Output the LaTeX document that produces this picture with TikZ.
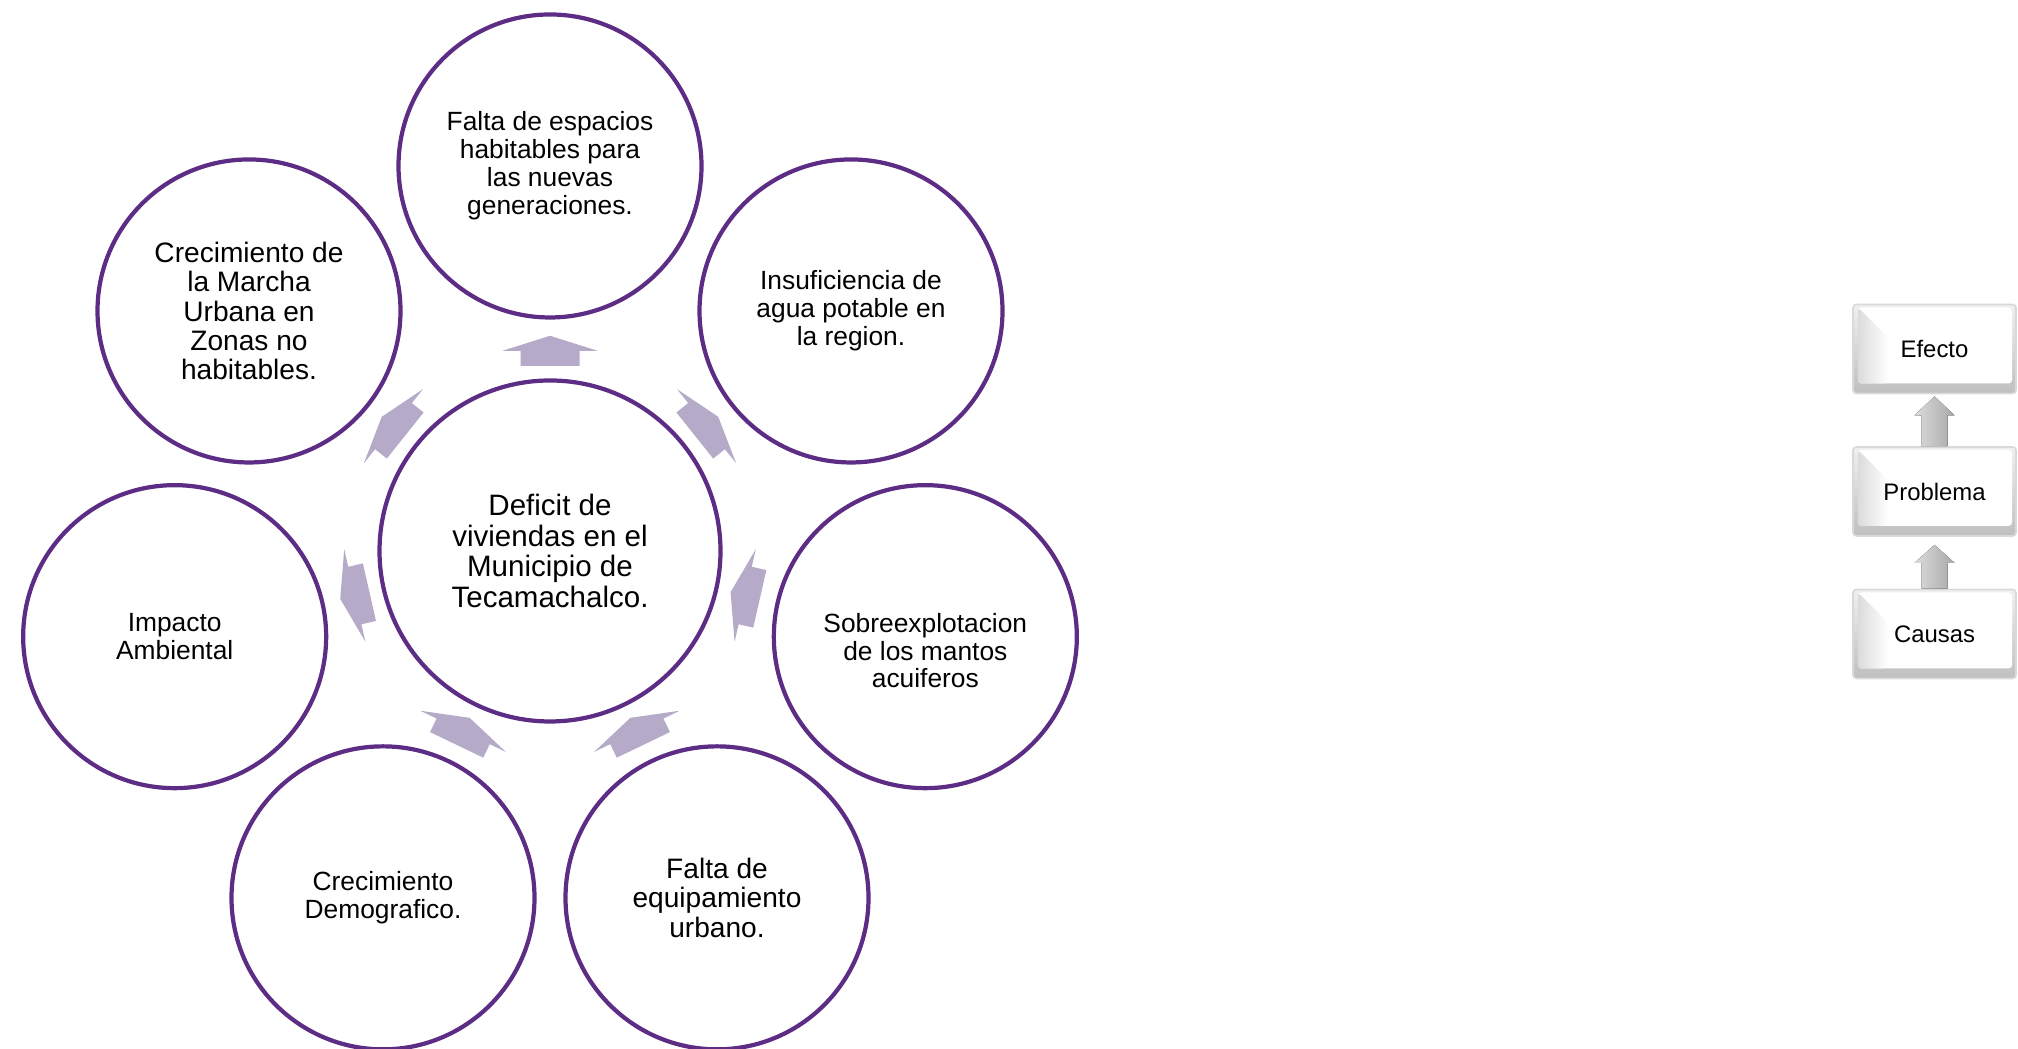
\documentclass[tikz,border=0pt]{standalone}
\usepackage{fontspec}
\setmainfont{Liberation Sans}
\usetikzlibrary{calc}

\definecolor{ringline}{RGB}{93,44,132}
\definecolor{arrowfill}{RGB}{181,171,200}

\tikzset{
    pics/radarrow/.style={code={
        \fill[arrowfill] (-0.15,-0.295) -- (0,-0.295) -- (0,-0.475) -- (0.15,0)
            -- (0,0.475) -- (0,0.295) -- (-0.15,0.295) -- cycle;
    }},
    levelbox/.style={rectangle,rounded corners=1pt,draw=black!15,line width=0.5pt,
        top color=black!6,bottom color=black!25,
        minimum width=1.63cm,minimum height=0.89cm,
        font=\fontsize{6.8}{7}\selectfont,
        path picture={
            \fill[white] ([xshift=0.05cm,yshift=-0.03cm]path picture bounding box.north west)
                rectangle ([xshift=-0.04cm,yshift=0.1cm]path picture bounding box.south east);
            \shade[left color=black!14,right color=white]
                ([xshift=0.05cm,yshift=-0.03cm]path picture bounding box.north west)
                -- ++(0.3,-0.3) |- ([xshift=0.05cm,yshift=0.1cm]path picture bounding box.south west) -- cycle;
        }},
    levelarrow/.style={left color=black!14,right color=black!34}
}

\begin{document}
\begin{tikzpicture}
\useasboundingbox (0,0) rectangle (20.18,10.49);
\coordinate (c0) at (5.50,4.98);

\begin{scope}[every node/.style={circle,draw=ringline,line width=1.2pt,
        minimum size=3.03cm,inner sep=0pt,align=center,
        font=\fontsize{7.5}{7.95}\selectfont}]
    \node[minimum size=3.41cm,font=\fontsize{8.4}{8.75}\selectfont] (P) at (c0)
        {Deficit de\\viviendas en el\\Municipio de\\Tecamachalco.};
    \node (E1) at ($(c0)+(90:3.85)$)
        {Falta de espacios\\habitables para\\las nuevas\\generaciones.};
    \node (E2) at ($(c0)+(38.57:3.85)$)
        {Insuficiencia de\\agua potable en\\la region.};
    \node (C1) at ($(c0)+(-12.86:3.85)$)
        {\rule{0pt}{0.47cm}Sobreexplotacion\\de los mantos\\acuiferos};
    \node[font=\fontsize{8}{8.3}\selectfont] (C2) at ($(c0)+(-64.29:3.85)$)
        {Falta de\\equipamiento\\urbano.};
    \node (C3) at ($(c0)+(-115.71:3.85)$)
        {Crecimiento\\Demografico.};
    \node (E3) at ($(c0)+(-167.14:3.85)$)
        {Impacto\\Ambiental};
    \node[font=\fontsize{8}{8.3}\selectfont] (E4) at ($(c0)+(141.43:3.85)$)
        {Crecimiento de\\la Marcha\\Urbana en\\Zonas no\\habitables.};
\end{scope}

\foreach \n/\a in {E1/90,E2/38.57,C1/167.14,C2/115.71,C3/64.29,E3/-167.14,E4/141.43}
    \pic[rotate=\a] at ($(P)!0.52!(\n)$) {radarrow};

\begin{scope}[every node/.style={levelbox}]
    \node (efecto) at (19.345,7.00) {Efecto};
    \node (problema) at (19.345,5.575) {Problema};
    \node (causas) at (19.345,4.15) {Causas};
\end{scope}

\fill[levelarrow] ($(problema.north)+(-0.13,0)$) |- ($(efecto.south)+(-0.2,-0.21)$)
    -- ($(efecto.south)+(0,-0.02)$) -- ($(efecto.south)+(0.2,-0.21)$)
    -| ($(problema.north)+(0.13,0)$) -- cycle;
\fill[levelarrow] ($(causas.north)+(-0.13,0)$) |- ($(problema.south)+(-0.2,-0.26)$)
    -- ($(problema.south)+(0,-0.08)$) -- ($(problema.south)+(0.2,-0.26)$)
    -| ($(causas.north)+(0.13,0)$) -- cycle;
\end{tikzpicture}
\end{document}
